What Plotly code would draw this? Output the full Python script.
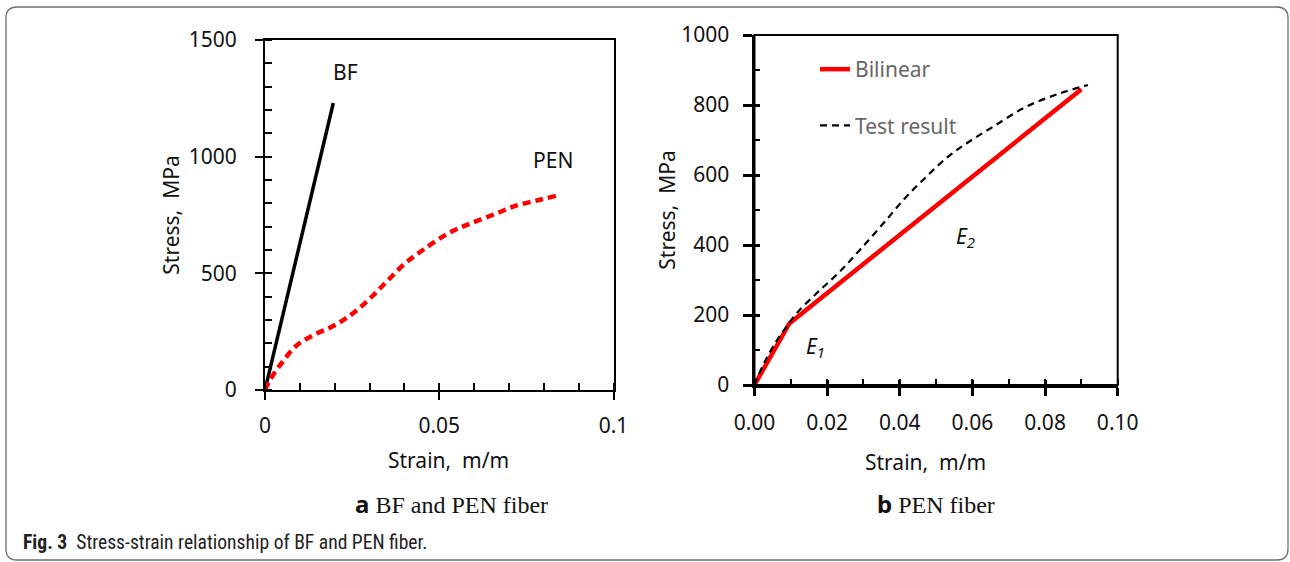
import plotly.graph_objects as go

# ---- data -------------------------------------------------------------
# (a) BF and PEN fibre stress-strain curves
bf_strain = [0.0, 0.0196]
bf_stress = [0, 1230]

pen_strain = [0.0, 0.0015, 0.005, 0.009, 0.014, 0.019, 0.023, 0.027, 0.031,
              0.035, 0.040, 0.0455, 0.053, 0.059, 0.0665, 0.072, 0.078, 0.0835]
pen_stress = [0, 45, 120, 190, 236, 270, 305, 350, 405,
              466, 540, 602, 675, 714, 757, 790, 812, 832]

# (b) PEN fibre: bilinear model vs. test result
bilinear_strain = [0.0, 0.0096, 0.09]
bilinear_stress = [0, 176, 845]

test_strain = [0.0, 0.0005, 0.003, 0.006, 0.0085, 0.0116, 0.0171, 0.0235, 0.029,
               0.0355, 0.0418, 0.0473, 0.0528, 0.0583, 0.0657, 0.0748, 0.084, 0.0918]
test_stress = [0, 14, 70, 125, 162, 205, 262, 324, 386,
               462, 538, 595, 648, 690, 738, 795, 833, 857]

a_xticks = [0, 0.05, 0.1]
a_xticktext = ["0", "0.05", "0.1"]

# ---- page geometry (pixels) -------------------------------------------
W, H = 1290, 562


def px(x):
    return x / W


def py(y):
    return 1 - y / H


FONT = "Noto Sans, Open Sans, DejaVu Sans, sans-serif"
AX_FONT = dict(family=FONT, size=21, color="#111111")

fig = go.Figure()

# (a)
fig.add_trace(go.Scatter(x=bf_strain, y=bf_stress, mode="lines",
                         line=dict(color="black", width=3.5),
                         xaxis="x", yaxis="y", showlegend=False, name="BF"))
fig.add_trace(go.Scatter(x=pen_strain, y=pen_stress, mode="lines",
                         line=dict(color="#ff0000", width=4.5, dash="8px,5px", shape="spline"),
                         xaxis="x", yaxis="y", showlegend=False, name="PEN"))

# (b)
fig.add_trace(go.Scatter(x=bilinear_strain, y=bilinear_stress, mode="lines",
                         line=dict(color="#ff0000", width=4.5),
                         xaxis="x2", yaxis="y2", name="Bilinear", legendgroup="g1"))
fig.add_trace(go.Scatter(x=test_strain, y=test_stress, mode="lines",
                         line=dict(color="black", width=2.2, dash="7px,5px", shape="spline"),
                         xaxis="x2", yaxis="y2", name="Test result", legendgroup="g2"))

# empty traces so the overlay axes (inner half of the crossing ticks) get drawn
for xa, ya in (("x3", "y"), ("x4", "y2"), ("x2", "y4")):
    fig.add_trace(go.Scatter(x=[], y=[], xaxis=xa, yaxis=ya, showlegend=False,
                             hoverinfo="skip"))

a_dom_x = [px(265), px(613.5)]
a_dom_y = [py(390), py(40)]
b_dom_x = [px(754.5), px(1117.7)]
b_dom_y = [py(385), py(35)]

common = dict(showgrid=False, zeroline=False, tickcolor="black", automargin=False,
              tickfont=AX_FONT, title_font=AX_FONT)
overlay = dict(showticklabels=False, showline=False, showgrid=False, zeroline=False,
               tickcolor="black", automargin=False)

fig.update_layout(
    width=W, height=H,
    margin=dict(l=0, r=0, t=0, b=0, pad=0),
    paper_bgcolor="white", plot_bgcolor="white",
    font=dict(family=FONT, color="#111111"),
    xaxis=dict(domain=a_dom_x, anchor="y", range=[0, 0.1],
               tickmode="array", tickvals=a_xticks, ticktext=a_xticktext,
               ticks="outside", ticklen=8, tickwidth=2,
               minor=dict(ticks="inside", ticklen=7, tickwidth=1.6, dtick=0.01,
                          tick0=0, tickcolor="black", showgrid=False),
               showline=True, linecolor="black", linewidth=2, mirror=True,
               ticklabelstandoff=8, **common),
    yaxis=dict(domain=a_dom_y, anchor="x", range=[0, 1500], dtick=500,
               ticks="outside", ticklen=8, tickwidth=2,
               minor=dict(ticks="inside", ticklen=7, tickwidth=1.6, dtick=100,
                          tick0=0, tickcolor="black", showgrid=False),
               showline=True, linecolor="black", linewidth=2, mirror=True,
               ticklabelstandoff=14,
               title=dict(text="Stress,\u00a0 MPa", standoff=3), **common),
    xaxis3=dict(overlaying="x", anchor="y", range=[0, 0.1], side="bottom",
                tickmode="array", tickvals=a_xticks, ticks="inside", ticklen=7,
                tickwidth=2, **overlay),
    xaxis2=dict(domain=b_dom_x, anchor="y2", range=[0, 0.1], dtick=0.02, tick0=0,
                tickformat=".2f",
                ticks="outside", ticklen=8, tickwidth=2.5,
                minor=dict(ticks="inside", ticklen=6, tickwidth=2, dtick=0.01,
                           tick0=0, tickcolor="black", showgrid=False),
                showline=True, linecolor="black", linewidth=3,
                ticklabelstandoff=9, **common),
    yaxis2=dict(domain=b_dom_y, anchor="x2", range=[0, 1000], dtick=200, tick0=0,
                ticks="outside", ticklen=9, tickwidth=2.5,
                minor=dict(ticks="inside", ticklen=5, tickwidth=2, dtick=100,
                           tick0=0, tickcolor="black", showgrid=False),
                showline=True, linecolor="black", linewidth=3,
                ticklabelstandoff=9,
                title=dict(text="Stress,\u00a0 MPa", standoff=0), **common),
    xaxis4=dict(overlaying="x2", anchor="y2", range=[0, 0.1], side="bottom",
                dtick=0.02, tick0=0, ticks="inside", ticklen=5, tickwidth=2.5,
                **overlay),
    yaxis4=dict(overlaying="y2", anchor="x2", range=[0, 1000], side="left",
                dtick=200, tick0=0, ticks="inside", ticklen=5, tickwidth=2.5,
                **overlay),
    legend=dict(x=px(815), y=py(49), xanchor="left", yanchor="top",
                bgcolor="rgba(0,0,0,0)", borderwidth=0,
                traceorder="grouped", tracegroupgap=26,
                font=dict(family=FONT, size=21, color="#666666")),
)

# frame around plot (b): thinner top/right edges
fig.add_shape(type="rect", xref="x2 domain", yref="y2 domain", x0=0, x1=1, y0=0, y1=1,
              line=dict(color="black", width=2), layer="above")

# rounded outer border of the figure panel
L, R, T, B, r = 6, 1288, 7, 560, 11
path = (f"M {px(L)},{py(T + r)} Q {px(L)},{py(T)} {px(L + r)},{py(T)} "
        f"L {px(R - r)},{py(T)} Q {px(R)},{py(T)} {px(R)},{py(T + r)} "
        f"L {px(R)},{py(B - r)} Q {px(R)},{py(B)} {px(R - r)},{py(B)} "
        f"L {px(L + r)},{py(B)} Q {px(L)},{py(B)} {px(L)},{py(B - r)} Z")
fig.add_shape(type="path", path=path, xref="paper", yref="paper",
              line=dict(color="#6e6e6e", width=1.3))

# x-axis titles
for xc, yc in ((448, 460), (925, 462)):
    fig.add_annotation(x=px(xc), y=py(yc), xref="paper", yref="paper", showarrow=False,
                       xanchor="center", yanchor="middle", text="Strain,\u00a0 m/m",
                       font=AX_FONT)

# curve labels
fig.add_annotation(x=0.023, y=1363, xref="x", yref="y", text="BF", showarrow=False,
                   font=AX_FONT)
fig.add_annotation(x=0.0826, y=986, xref="x", yref="y", text="PEN", showarrow=False,
                   font=AX_FONT)
fig.add_annotation(x=0.0167, y=109, xref="x2", yref="y2", text="<i>E<sub>1</sub></i>",
                   showarrow=False, font=AX_FONT)
fig.add_annotation(x=0.058, y=423, xref="x2", yref="y2", text="<i>E<sub>2</sub></i>",
                   showarrow=False, font=AX_FONT)

# panel captions
SERIF = "Liberation Serif, Times New Roman, serif"
fig.add_annotation(x=px(451), y=py(503), xref="paper", yref="paper", showarrow=False,
                   xanchor="center", yanchor="middle",
                   text='<b><span style="font-family:Noto Sans">a</span></b> BF and PEN fiber',
                   font=dict(family=SERIF, size=24, color="#111111"))
fig.add_annotation(x=px(936), y=py(503), xref="paper", yref="paper", showarrow=False,
                   xanchor="center", yanchor="middle",
                   text='<b><span style="font-family:Noto Sans">b</span></b> PEN fiber',
                   font=dict(family=SERIF, size=24, color="#111111"))

# figure caption
fig.add_annotation(x=px(21), y=py(542), xref="paper", yref="paper", showarrow=False,
                   xanchor="left", yanchor="middle",
                   text="<b>Fig. 3</b>\u00a0 Stress-strain relationship of BF and PEN fiber.",
                   font=dict(family="Liberation Sans Narrow, Roboto Condensed, Arial Narrow, sans-serif",
                             size=19.6, color="#222222"))

fig.write_html("out.html")
